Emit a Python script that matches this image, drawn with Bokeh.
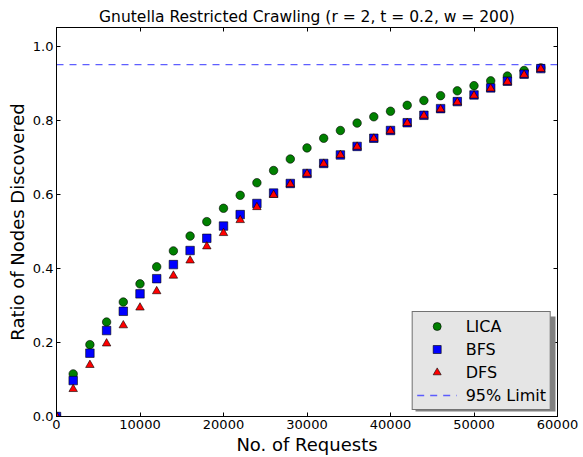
from bokeh.plotting import figure
from bokeh.models import Range1d, LinearAxis, FixedTicker, Legend, LegendItem, PrintfTickFormatter, BoxAnnotation
from bokeh.embed import file_html
from bokeh.resources import INLINE

requests = [0, 2000, 4000, 6000, 8000, 10000, 12000, 14000, 16000, 18000, 20000,
            22000, 24000, 26000, 28000, 30000, 32000, 34000, 36000, 38000, 40000,
            42000, 44000, 46000, 48000, 50000, 52000, 54000, 56000, 58000]
lica = [0.0, 0.115, 0.194, 0.255, 0.309, 0.358, 0.404, 0.447, 0.487, 0.526, 0.562,
        0.597, 0.631, 0.664, 0.695, 0.725, 0.751, 0.772, 0.792, 0.809, 0.824,
        0.840, 0.853, 0.866, 0.879, 0.893, 0.906, 0.919, 0.934, 0.941]
bfs = [0.0, 0.097, 0.171, 0.232, 0.284, 0.331, 0.372, 0.410, 0.448, 0.481, 0.514,
       0.545, 0.575, 0.603, 0.629, 0.656, 0.683, 0.706, 0.729, 0.751, 0.772,
       0.793, 0.813, 0.831, 0.850, 0.868, 0.887, 0.905, 0.924, 0.939]
dfs = [0.0, 0.074, 0.139, 0.197, 0.246, 0.294, 0.338, 0.380, 0.421, 0.459, 0.495,
       0.530, 0.565, 0.598, 0.627, 0.655, 0.682, 0.706, 0.728, 0.750, 0.771,
       0.792, 0.812, 0.829, 0.848, 0.866, 0.885, 0.903, 0.922, 0.938]
limit = 0.95
x_ticks = [0, 10000, 20000, 30000, 40000, 50000, 60000]
y_ticks = [0.0, 0.2, 0.4, 0.6, 0.8, 1.0]

FONT = "DejaVu Sans"

p = figure(width=583, height=457, output_backend="svg", toolbar_location=None,
           x_range=Range1d(0, 60000), y_range=Range1d(0, 1.05),
           title="Gnutella Restricted Crawling (r = 2, t = 0.2, w = 200)",
           min_border_left=56, min_border_right=26, min_border_top=27, min_border_bottom=41)
p.background_fill_color = "white"
p.border_fill_color = "white"
p.outline_line_color = "black"
p.outline_line_width = 1
p.xgrid.visible = False
p.ygrid.visible = False

p.title.align = "center"
p.title.text_font = FONT
p.title.text_font_size = "15.5px"
p.title.text_font_style = "normal"
p.title.text_color = "black"
p.title.standoff = 4

xa = p.xaxis[0]
ya = p.yaxis[0]
xa.axis_label = "No. of Requests"
ya.axis_label = "Ratio of Nodes Discovered"
xa.ticker = FixedTicker(ticks=x_ticks)
ya.ticker = FixedTicker(ticks=y_ticks)
ya.formatter = PrintfTickFormatter(format="%.1f")
for ax in (xa, ya):
    ax.axis_label_text_font = FONT
    ax.axis_label_text_font_size = "18px"
    ax.axis_label_text_font_style = "normal"
    ax.axis_label_text_color = "black"
    ax.major_label_text_font = FONT
    ax.major_label_text_font_size = "13px"
    ax.major_label_text_color = "black"
    ax.major_tick_in = 4
    ax.major_tick_out = 0
    ax.minor_tick_in = 0
    ax.minor_tick_out = 0
    ax.axis_line_color = "black"
    ax.major_tick_line_color = "black"
    ax.major_label_standoff = 3
    ax.axis_label_standoff = 2
ya.major_label_orientation = "horizontal"

for loc, tk in (("right", y_ticks), ("above", x_ticks)):
    ax = LinearAxis(ticker=FixedTicker(ticks=tk))
    ax.major_label_text_font_size = "1px"
    ax.major_label_text_color = None
    ax.major_label_standoff = 0
    ax.major_tick_in = 4
    ax.major_tick_out = 0
    ax.minor_tick_in = 0
    ax.minor_tick_out = 0
    ax.axis_line_color = "black"
    ax.major_tick_line_color = "black"
    p.add_layout(ax, loc)

r_lim = p.line(x=[x_ticks[0], x_ticks[-1]], y=[limit, limit], line_color="#4d4dff",
               line_alpha=0.9, line_width=1.3, line_dash="7 6")

r_lica = p.scatter(requests, lica, marker="circle", size=8.5, fill_color="#008000",
                   line_color="black", line_width=0.6)
r_bfs = p.scatter(requests, bfs, marker="square", size=8.5, fill_color="#0000ff",
                  line_color="black", line_width=0.6)
r_dfs = p.scatter(requests, dfs, marker="triangle", size=8.5, fill_color="#ff0000",
                  line_color="black", line_width=0.6)

shadow = BoxAnnotation(left=415, right=555, top=316, bottom=411,
                       left_units="canvas", right_units="canvas",
                       top_units="canvas", bottom_units="canvas",
                       fill_color="#808080", fill_alpha=1.0, line_color=None)
p.add_layout(shadow)

legend = Legend(items=[LegendItem(label="LICA", renderers=[r_lica]),
                       LegendItem(label="BFS", renderers=[r_bfs]),
                       LegendItem(label="DFS", renderers=[r_dfs]),
                       LegendItem(label="95% Limit", renderers=[r_lim])],
                location="bottom_right")
legend.background_fill_color = "#e5e5e5"
legend.background_fill_alpha = 1.0
legend.border_line_color = "black"
legend.border_line_width = 1
legend.label_text_font = FONT
legend.label_text_font_size = "16px"
legend.label_text_color = "black"
legend.glyph_width = 40
legend.glyph_height = 20
legend.label_standoff = 9
legend.spacing = 3
legend.padding = 4
legend.margin = 6
p.add_layout(legend)

open("out.html", "w").write(file_html(p, INLINE))
